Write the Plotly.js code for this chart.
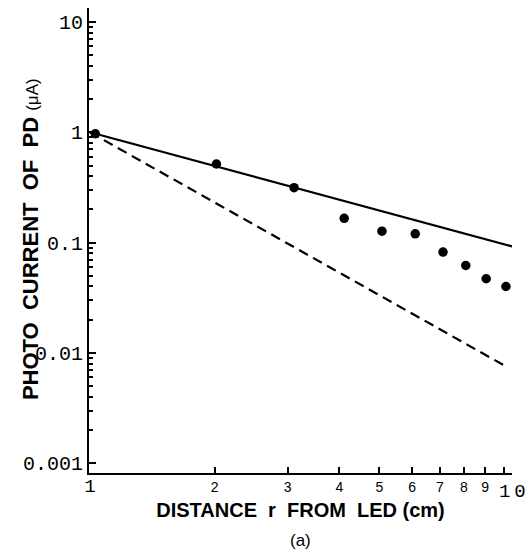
<!DOCTYPE html>
<html>
<head>
<meta charset="utf-8">
<script src="https://cdn.plot.ly/plotly-3.0.1.min.js"></script>
<style>html,body{margin:0;padding:0;background:#fff;}#chart{width:529px;height:555px;}</style>
</head>
<body>
<div id="chart"></div>
<script>
// Measured data points
const distance = [1.03, 2.02, 3.11, 4.11, 5.07, 6.10, 7.12, 8.08, 9.05, 10.1];
const current  = [0.97, 0.516, 0.315, 0.166, 0.127, 0.120, 0.082, 0.062, 0.047, 0.040];
// Reference lines (endpoints)
const solidX = [1, 10.5];
const solidY = [1, 0.092];
const dashX  = [1, 10];
const dashY  = [1, 0.0077];
// Ticks
const xTickVals = [1, 2, 3, 4, 5, 6, 7, 8, 9, 10];
const xTickText = ['<span style="font-family:Liberation Mono;font-size:19px">1</span>', '2', '3', '4', '5', '6', '7', '8', '9', ''];
const yTickVals = [0.001, 0.01, 0.1, 1, 10];
const yTickText = ['0.001', '0.01', '0.1', '1', '10'];
const yMinorVals = [];
[0.001, 0.01, 0.1, 1].forEach(d => { for (let k = 2; k <= 9; k++) yMinorVals.push(+(d * k).toPrecision(3)); });

const traces = [
  {x: solidX, y: solidY, mode: 'lines', line: {color: '#000', width: 2.2}, hoverinfo: 'skip'},
  {x: dashX, y: dashY, mode: 'lines', line: {color: '#000', width: 2.2, dash: '10px,6px'}, hoverinfo: 'skip'},
  {x: distance, y: current, mode: 'markers', marker: {color: '#000', size: 9.5}, cliponaxis: false}
];

const layout = {
  width: 529, height: 555,
  margin: {l: 89, r: 17, t: 8, b: 82},
  paper_bgcolor: '#fff', plot_bgcolor: '#fff',
  showlegend: false,
  xaxis: {
    type: 'log', range: [-0.0024, 1.019],
    showgrid: false, zeroline: false,
    showline: true, linecolor: '#000', linewidth: 2,
    ticks: 'inside', ticklen: 6, tickwidth: 2, tickcolor: '#000',
    tickmode: 'array', tickvals: xTickVals, ticktext: xTickText,
    tickfont: {family: 'Liberation Sans, Arial', size: 14, color: '#000'},
    title: {text: '<b>DISTANCE  r  FROM  LED (cm)</b>', font: {family: 'Liberation Sans, Arial', size: 20, color: '#000'}, standoff: 6}
  },
  yaxis: {
    type: 'log', range: [-3.089, 1.127],
    showgrid: false, zeroline: false,
    showline: true, linecolor: '#000', linewidth: 2,
    ticks: 'inside', ticklen: 7, tickwidth: 2, tickcolor: '#000',
    tickmode: 'array', tickvals: yTickVals, ticktext: yTickText,
    tickfont: {family: 'Liberation Mono, Courier New, monospace', size: 20, color: '#000'},
    minor: {ticks: 'inside', ticklen: 4, tickwidth: 2, tickcolor: '#000', tickmode: 'array', tickvals: yMinorVals, showgrid: false}
  },
  annotations: [
    {xref: 'paper', yref: 'paper', x: -0.1395, y: 0.503, xanchor: 'center', yanchor: 'middle', textangle: -90, showarrow: false,
     text: '<b>PHOTO  CURRENT  OF  PD</b> <span style="font-size:17px">(μA)</span>', font: {family: 'Liberation Sans, Arial', size: 22, color: '#000'}},
    {xref: 'paper', yref: 'paper', x: 1.0, y: 0, yshift: -19, xanchor: 'center', yanchor: 'middle', showarrow: false,
     text: '1\u20090', font: {family: 'Liberation Mono, Courier New, monospace', size: 19, color: '#000'}},
    {xref: 'paper', yref: 'paper', x: 0.5, y: 0, yshift: -67, xanchor: 'center', yanchor: 'middle', showarrow: false,
     text: '(a)', font: {family: 'Liberation Sans, Arial', size: 17, color: '#000'}}
  ]
};

Plotly.newPlot('chart', traces, layout, {displayModeBar: false, staticPlot: true});
</script>
</body>
</html>
